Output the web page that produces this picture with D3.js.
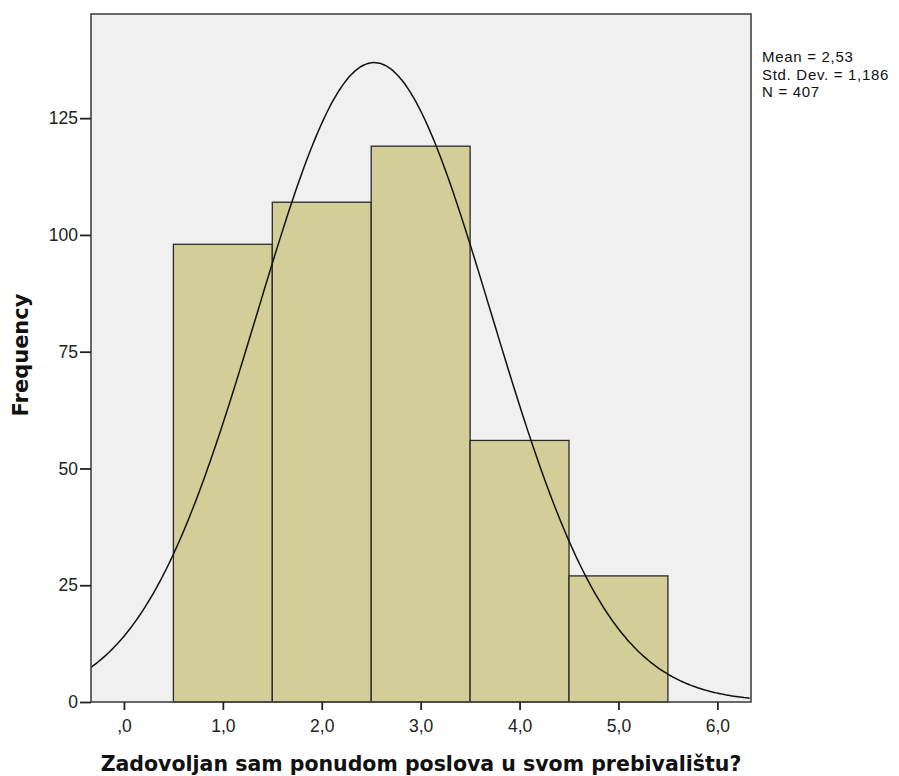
<!DOCTYPE html>
<html><head><meta charset="utf-8">
<script src="https://cdn.jsdelivr.net/npm/d3@7"></script>
<style>body{margin:0;background:#fff;}svg text{font-family:"Liberation Sans",Arial,sans-serif;}</style>
</head><body>
<svg id="c" width="899" height="776"></svg>
<script>
const binStarts = [0.5, 1.5, 2.5, 3.5, 4.5];
const binEnds = [1.5, 2.5, 3.5, 4.5, 5.5];
const frequencies = [98, 107, 119, 56, 27];
const xTicks = [0, 1, 2, 3, 4, 5, 6];
const xTickLabels = [",0", "1,0", "2,0", "3,0", "4,0", "5,0", "6,0"];
const yTicks = [0, 25, 50, 75, 100, 125];
const statLines = ["Mean = 2,53", "Std. Dev. = 1,186", "N = 407"];
const meanVal = 2.53, sdVal = 1.186, nVal = 407, binWidth = 1;

const svg = d3.select("#c");
const L = 91, R = 751, T = 14, B = 702;
const x = d3.scaleLinear().domain([-0.333, 6.34]).range([L, R]);
const y = d3.scaleLinear().domain([0, 147.3]).range([B, T]);

svg.append("rect").attr("x", L).attr("y", T).attr("width", R - L).attr("height", B - T).attr("fill", "#f0f0f0");

svg.append("clipPath").attr("id", "pc").append("rect").attr("x", L).attr("y", T).attr("width", R - L).attr("height", B - T);

svg.append("g").selectAll("rect").data(frequencies).join("rect")
  .attr("x", (d, i) => x(binStarts[i]))
  .attr("y", d => y(d))
  .attr("width", (d, i) => x(binEnds[i]) - x(binStarts[i]))
  .attr("height", d => y(0) - y(d))
  .attr("fill", "#d3ce98").attr("stroke", "#2a2a2a").attr("stroke-width", 1.3);

// fitted normal curve from the reported statistics
const xs = d3.range(-0.333, 6.341, 0.02);
const curve = xs.map(v => [v, nVal * binWidth / (sdVal * Math.sqrt(2 * Math.PI)) * Math.exp(-0.5 * ((v - meanVal) / sdVal) ** 2)]);
svg.append("path").datum(curve).attr("clip-path", "url(#pc)")
  .attr("d", d3.line().x(d => x(d[0])).y(d => y(d[1])).curve(d3.curveBasis))
  .attr("fill", "none").attr("stroke", "#111").attr("stroke-width", 1.5);

svg.append("rect").attr("x", L).attr("y", T).attr("width", R - L).attr("height", B - T)
  .attr("fill", "none").attr("stroke", "#444").attr("stroke-width", 1.6);

const xAxis = svg.append("g").attr("transform", `translate(0,${B})`)
  .call(d3.axisBottom(x).tickValues(xTicks).tickFormat((d, i) => xTickLabels[i]).tickSize(8).tickPadding(10));
const yAxis = svg.append("g").attr("transform", `translate(${L},0)`)
  .call(d3.axisLeft(y).tickValues(yTicks).tickSize(11).tickPadding(2));
[xAxis, yAxis].forEach(a => {
  a.select(".domain").remove();
  a.selectAll(".tick line").attr("stroke", "#222").attr("stroke-width", 1.8);
  a.selectAll(".tick text").attr("fill", "#222").style("font-size", "17.5px");
});

svg.append("text").attr("x", 421).attr("y", 771).attr("text-anchor", "middle")
  .style("font-family", "'DejaVu Sans', sans-serif").style("font-weight", "bold").style("font-size", "20.5px").attr("fill", "#111")
  .text("Zadovoljan sam ponudom poslova u svom prebivalištu?");
svg.append("text").attr("transform", "translate(28,355) rotate(-90)").attr("text-anchor", "middle")
  .style("font-family", "'DejaVu Sans', sans-serif").style("font-weight", "bold").style("font-size", "21px").attr("fill", "#111")
  .text("Frequency");

svg.append("g").selectAll("text").data(statLines).join("text")
  .attr("x", 762).attr("y", (d, i) => 62 + i * 17.5)
  .style("font-size", "15px").style("letter-spacing", "0.7px").attr("fill", "#111").text(d => d);
</script>
</body></html>
